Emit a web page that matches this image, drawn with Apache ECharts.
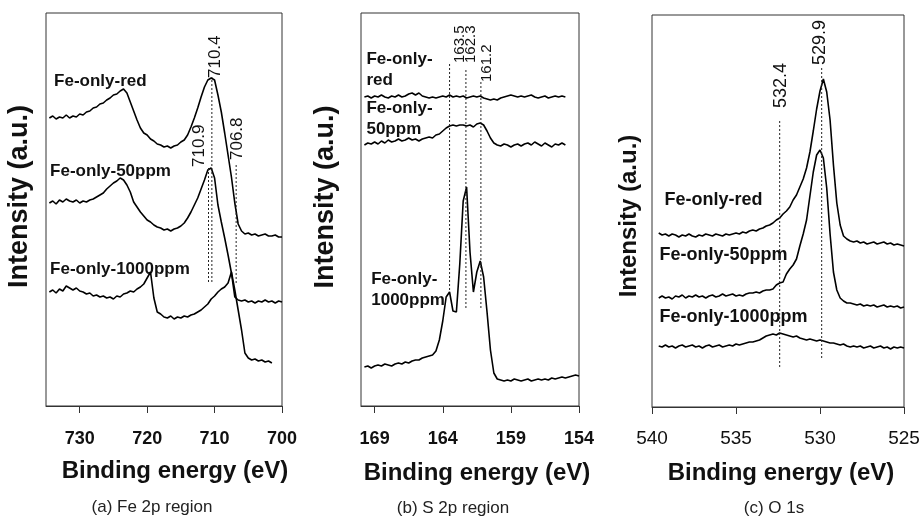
<!DOCTYPE html>
<html lang="en">
<head>
<meta charset="UTF-8" />
<title>XPS spectra: Fe 2p, S 2p, O 1s</title>
<script src="https://cdn.jsdelivr.net/npm/echarts@6/dist/echarts.min.js"></script>
<style>
  body { margin: 0; background: #fff; }
  #main { width: 922px; height: 518px; }
</style>
</head>
<body>
<div id="main"></div>
<script>
const FONT = '"Liberation Sans", Arial, sans-serif'
const curveNames = ['Fe-only-red', 'Fe-only-50ppm', 'Fe-only-1000ppm']

// (a) Fe 2p, scan from 734.5 eV down, 0.5 eV per point
const feStart = 734.5, feStep = 0.5
const feRed = [
  288, 290, 287, 289, 288, 291, 288, 290, 289, 292,
  291, 294, 295, 298, 299, 302, 303, 306, 308, 311,
  312, 315, 317, 313, 304, 295, 286, 278, 273, 271,
  267, 265, 262, 261, 259, 260, 258, 260, 261, 264,
  266, 271, 279, 288, 298, 309, 319, 326, 328, 326,
  311, 294, 273, 251, 229, 203, 182, 175, 172, 173,
  171, 172, 170, 171, 172, 170, 170, 171, 169, 169
]
const fe50 = [
  203, 205, 202, 206, 204, 207, 205, 204, 206, 203,
  205, 204, 206, 207, 209, 211, 213, 217, 220, 223,
  225, 228, 226, 221, 214, 204, 199, 194, 190, 186,
  184, 181, 179, 178, 176, 177, 175, 177, 178, 180,
  183, 188, 194, 201, 208, 217, 226, 236, 238, 228,
  201, 184, 168, 151, 133, 109, 106, 105, 106, 104,
  105, 103, 105, 104, 106, 104, 105, 103, 105, 104
]
const fe1000 = [
  114, 116, 113, 117, 115, 120, 118, 116, 118, 115,
  114, 112, 113, 110, 111, 109, 110, 108, 109, 107,
  110, 109, 112, 113, 115, 114, 117, 119, 122, 128,
  134, 108, 94, 92, 89, 88, 90, 87, 89, 88,
  90, 89, 91, 92, 94, 96, 99, 102, 107, 110,
  114, 117, 119, 123, 134, 116, 96, 76, 53, 48,
  46, 47, 45, 46, 44, 45, 43
]
const fePeaks = [710.4, 710.9, 706.8]
const fePeakTop = [329, 239, 243]
const fePeakBottom = [124, 124, 123]

// (b) S 2p, from 169.75 eV down, 0.25 eV per point
const sStart = 169.75, sStep = 0.25
const sRed = [
  309, 310, 308, 310, 309, 311, 309, 308, 310, 309,
  311, 309, 310, 312, 313, 311, 313, 310, 309, 308,
  309, 308, 309, 310, 309, 311, 309, 310, 309, 310,
  308, 309, 310, 309, 310, 308, 307, 306, 307, 306,
  308, 309, 310, 311, 310, 309, 310, 309, 310, 311,
  309, 308, 309, 310, 308, 309, 310, 309, 310, 309
]
const s50 = [
  261, 263, 262, 264, 262, 265, 263, 266, 264, 265,
  267, 265, 266, 268, 266, 267, 265, 267, 268, 269,
  268, 271, 272, 275, 278, 280, 281, 280, 281, 281,
  280, 281, 279, 282, 283, 281, 275, 268, 263, 261,
  260, 262, 261, 259, 261, 262, 260, 262, 263, 261,
  264, 262, 260, 263, 261, 259, 262, 261, 263, 261
]
const s1000 = [
  39, 40, 38, 40, 41, 40, 42, 41, 40, 42,
  43, 42, 44, 43, 45, 46, 46, 48, 49, 50,
  51, 55, 66, 85, 109, 114, 95, 94, 142, 205,
  219, 154, 114, 134, 145, 129, 94, 56, 33, 27,
  26, 25, 26, 25, 27, 26, 25, 26, 27, 25,
  26, 27, 26, 27, 26, 28, 27, 28, 29, 28,
  29, 30, 31, 30
]
const sPeaks = [163.5, 162.3, 161.2]
const sPeakTop = [344, 336, 326]
const sPeakBottom = [116, 98, 98]

// (c) O 1s, from 539.6 eV down, 0.2 eV per point
const oStart = 539.6, oStep = 0.2
const oRed = [
  174, 172, 173, 171, 173, 172, 170, 172, 171, 173,
  171, 170, 172, 171, 173, 172, 171, 173, 172, 171,
  173, 172, 173, 174, 173, 175, 174, 176, 177, 176,
  178, 179, 181, 182, 184, 187, 189, 193, 196, 200,
  207, 212, 220, 228, 239, 255, 276, 298, 316, 328,
  315, 287, 242, 204, 182, 171, 168, 166, 165, 166,
  164, 165, 163, 164, 165, 163, 164, 165, 163, 164,
  162, 163, 162, 161
]
const o50 = [
  109, 111, 109, 110, 108, 111, 110, 112, 109, 111,
  110, 112, 110, 111, 109, 111, 112, 110, 111, 113,
  111, 112, 113, 111, 112, 111, 113, 114, 114, 115,
  114, 116, 117, 117, 118, 122, 124, 125, 133, 138,
  142, 148, 161, 173, 187, 211, 235, 252, 257, 249,
  219, 173, 135, 117, 109, 106, 104, 104, 103, 102,
  103, 101, 102, 101, 102, 100, 101, 102, 100, 101,
  100, 101, 99, 100
]
const o1000 = [
  61, 60, 62, 60, 61, 59, 61, 62, 60, 61,
  62, 60, 61, 59, 61, 62, 60, 61, 62, 60,
  61, 62, 61, 63, 62, 63, 64, 65, 65, 66,
  67, 69, 71, 72, 73, 72, 74, 73, 72, 71,
  70, 71, 69, 68, 67, 68, 67, 66, 67, 66,
  65, 64, 64, 63, 62, 63, 61, 60, 61, 60,
  61, 59, 60, 61, 59, 60, 61, 59, 60, 58,
  60, 59, 60, 59
]
const oPeaks = [532.4, 529.9]
const oPeakTop = [287, 339]
const oPeakBottom = [40, 49]

const panels = [
  {
    rect: { left: 46, top: 13, width: 236, height: 393 }, yMax: 393,
    min: 700, max: 735, ticks: [730, 720, 710, 700],
    start: feStart, step: feStep, curves: [feRed, fe50, fe1000],
    peaks: fePeaks, peakTop: fePeakTop, peakBottom: fePeakBottom,
    peakOffsets: [[3, -1], [-9, 0], [1, 3]], peakFont: 17,
    tickSize: 18, tickWeight: 'bold', labelMargin: 24,
    nameGap: 53, namePad: 22, yNameSize: 27, yNameGap: 13, yNamePad: [0, 0, 0, 26],
    labels: [
      { text: 'Fe-only-red', e: 733.8, v: 325 },
      { text: 'Fe-only-50ppm', e: 734.4, v: 235 },
      { text: 'Fe-only-1000ppm', e: 734.4, v: 137 }
    ],
    labelFont: 17, labelAlign: 'middle',
    caption: '(a) Fe 2p region', captionAt: [152, 507]
  },
  {
    rect: { left: 361, top: 13, width: 218, height: 393 }, yMax: 393,
    min: 154, max: 170, ticks: [169, 164, 159, 154],
    start: sStart, step: sStep, curves: [sRed, s50, s1000],
    peaks: sPeaks, peakTop: sPeakTop, peakBottom: sPeakBottom,
    peakOffsets: [[10, -1], [5, 7], [6, -2]], peakFont: 15,
    tickSize: 18, tickWeight: 'bold', labelMargin: 24,
    nameGap: 55, namePad: 14, yNameSize: 27, yNameGap: 22, yNamePad: [0, 0, 0, 25],
    labels: [
      { text: 'Fe-only-\nred', e: 169.6, v: 357 },
      { text: 'Fe-only-\n50ppm', e: 169.6, v: 308 },
      { text: 'Fe-only-\n1000ppm', e: 169.25, v: 137 }
    ],
    labelFont: 17, labelAlign: 'top',
    caption: '(b) S 2p region', captionAt: [453, 508]
  },
  {
    rect: { left: 652, top: 15, width: 252, height: 392 }, yMax: 392,
    min: 525, max: 540, ticks: [540, 535, 530, 525],
    start: oStart, step: oStep, curves: [oRed, o50, o1000],
    peaks: oPeaks, peakTop: oPeakTop, peakBottom: oPeakBottom,
    peakOffsets: [[1, 12], [-2, 3]], peakFont: 18,
    tickSize: 19, tickWeight: 'normal', labelMargin: 22,
    nameGap: 54, namePad: 6, yNameSize: 24, yNameGap: 11, yNamePad: [0, 10, 0, 0],
    labels: [
      { text: 'Fe-only-red', e: 539.25, v: 207 },
      { text: 'Fe-only-50ppm', e: 539.55, v: 152 },
      { text: 'Fe-only-1000ppm', e: 539.55, v: 90 }
    ],
    labelFont: 18, labelAlign: 'middle',
    caption: '(c) O 1s', captionAt: [774, 508]
  }
]

function spectrum(start, step, values) {
  return values.map((v, i) => [+(start - i * step).toFixed(2), v])
}

const grids = [], xAxes = [], yAxes = [], series = []
panels.forEach((p, i) => {
  grids.push(Object.assign({
    show: true, borderColor: '#333', borderWidth: 1,
    backgroundColor: 'transparent', containLabel: false, outerBoundsMode: 'none'
  }, p.rect))
  xAxes.push({
    gridIndex: i, type: 'value', inverse: true, min: p.min, max: p.max,
    axisLine: { show: true, onZero: false, lineStyle: { color: '#333', width: 1 } },
    axisTick: { show: true, inside: false, length: 7, customValues: p.ticks, lineStyle: { color: '#333' } },
    axisLabel: {
      customValues: p.ticks, margin: p.labelMargin, color: '#111',
      fontSize: p.tickSize, fontWeight: p.tickWeight, fontFamily: FONT
    },
    splitLine: { show: false },
    name: 'Binding energy (eV)', nameLocation: 'middle', nameGap: p.nameGap,
    nameTextStyle: {
      fontSize: 24, fontWeight: 'bold', color: '#111', fontFamily: FONT,
      padding: [0, 0, 0, p.namePad]
    }
  })
  yAxes.push({
    gridIndex: i, type: 'value', min: 0, max: p.yMax,
    axisLine: { show: false }, axisTick: { show: false },
    axisLabel: { show: false }, splitLine: { show: false },
    name: 'Intensity (a.u.)', nameLocation: 'middle', nameGap: p.yNameGap,
    nameTextStyle: {
      fontSize: p.yNameSize, fontWeight: 'bold', color: '#111', fontFamily: FONT,
      padding: p.yNamePad
    }
  })
  p.curves.forEach((vals, k) => {
    series.push({
      name: curveNames[k], type: 'line', xAxisIndex: i, yAxisIndex: i,
      data: spectrum(p.start, p.step, vals),
      symbol: 'none', silent: true,
      lineStyle: { color: '#000', width: 1.6 }
    })
  })
  p.peaks.forEach((e, k) => {
    series.push({
      name: 'peak ' + e, type: 'line', xAxisIndex: i, yAxisIndex: i,
      data: [[e, p.peakBottom[k]], [e, p.peakTop[k]]],
      symbol: 'none', silent: true,
      lineStyle: { color: '#222', width: 1, type: [2, 2] }
    })
  })
})

const chart = echarts.init(document.getElementById('main'))
chart.setOption({
  backgroundColor: '#fff',
  animation: false,
  grid: grids,
  xAxis: xAxes,
  yAxis: yAxes,
  series: series
})

// text placed through the axes once they exist
const graphics = []
panels.forEach((p, i) => {
  p.peaks.forEach((e, k) => {
    const pt = chart.convertToPixel({ gridIndex: i }, [e, p.peakTop[k]])
    const off = p.peakOffsets[k]
    graphics.push({
      type: 'text', x: pt[0] + off[0], y: pt[1] - off[1], rotation: Math.PI / 2,
      style: {
        text: e.toFixed(1), fill: '#111', fontSize: p.peakFont, fontFamily: FONT,
        textAlign: 'left', textVerticalAlign: 'middle', align: 'left', verticalAlign: 'middle'
      }
    })
  })
  p.labels.forEach(lb => {
    const pt = chart.convertToPixel({ gridIndex: i }, [lb.e, lb.v])
    graphics.push({
      type: 'text', x: pt[0], y: pt[1],
      style: {
        text: lb.text, fill: '#111', fontSize: p.labelFont, fontWeight: 'bold',
        fontFamily: FONT, lineHeight: 21,
        textAlign: 'left', textVerticalAlign: p.labelAlign, align: 'left', verticalAlign: p.labelAlign
      }
    })
  })
  graphics.push({
    type: 'text', x: p.captionAt[0], y: p.captionAt[1],
    style: {
      text: p.caption, fill: '#222', fontSize: 17, fontFamily: FONT,
      textAlign: 'center', textVerticalAlign: 'middle', align: 'center', verticalAlign: 'middle'
    }
  })
})
chart.setOption({ graphic: graphics })
</script>
</body>
</html>
